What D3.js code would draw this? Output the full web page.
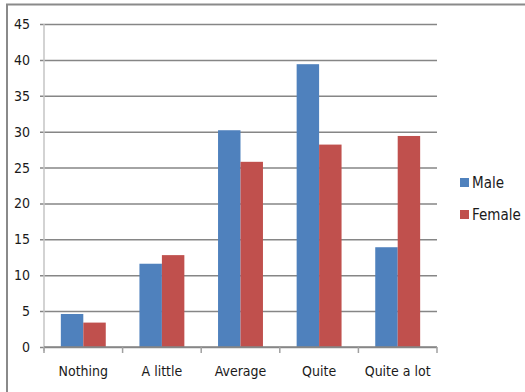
<!DOCTYPE html>
<html>
<head>
<meta charset="utf-8">
<script src="https://cdn.jsdelivr.net/npm/d3@7"></script>
<style>
  html, body { margin: 0; padding: 0; background: #fff; }
  svg text { font-family: "DejaVu Sans Condensed", "Liberation Sans Narrow", "Liberation Sans", sans-serif; font-stretch: condensed; fill: #1a1a1a; }
</style>
</head>
<body>
<svg id="chart" width="525" height="392"></svg>
<script>
const categories = ["Nothing", "A little", "Average", "Quite", "Quite a lot"];
const seriesNames = ["Male", "Female"];
const male = [4.6, 11.6, 30.2, 39.4, 13.9];
const female = [3.4, 12.8, 25.8, 28.2, 29.4];
const yTicks = [0, 5, 10, 15, 20, 25, 30, 35, 40, 45];
const colors = ["#4F81BD", "#C0504D"];

const svg = d3.select("#chart");
const W = 525, H = 392;
const plot = { left: 44, right: 437, top: 24, bottom: 347 };

// Outer frame (open at the right and bottom edges of the view)
svg.append("path")
  .attr("d", `M7,${H} V4.5 H${W}`)
  .attr("fill", "none")
  .attr("stroke", "#8a8a8a")
  .attr("stroke-width", 2);

const x0 = d3.scaleBand().domain(categories).range([plot.left, plot.right]).paddingInner(0).paddingOuter(0);
const x1 = d3.scaleBand().domain(seriesNames).range([0, x0.bandwidth()]).paddingInner(0).paddingOuter(0.75);
const y = d3.scaleLinear().domain([0, 45]).range([plot.bottom, plot.top]);

// Horizontal gridlines with short ticks to the left
const yAxis = d3.axisLeft(y).tickValues(yTicks).tickSize(-(plot.right - plot.left)).tickPadding(10).tickSizeOuter(0);
const gy = svg.append("g").attr("transform", `translate(${plot.left},0)`).call(yAxis);
gy.select(".domain").remove();
gy.selectAll(".tick line")
  .attr("x1", -4)
  .attr("stroke", "#868686")
  .attr("stroke-width", 1.5);
gy.selectAll(".tick text")
  .attr("x", -14)
  .style("font-size", "14px")
  .attr("fill", "#1a1a1a");

// Vertical axis line
svg.append("line")
  .attr("x1", plot.left).attr("x2", plot.left)
  .attr("y1", plot.top).attr("y2", plot.bottom + 4)
  .attr("stroke", "#c4c4c4").attr("stroke-width", 1.5);

const data = categories.map((c, i) => ({ cat: c, vals: [male[i], female[i]] }));

const groups = svg.append("g").selectAll("g")
  .data(data).join("g")
  .attr("transform", d => `translate(${x0(d.cat)},0)`);

groups.selectAll("rect")
  .data(d => d.vals.map((v, j) => ({ key: seriesNames[j], v, j })))
  .join("rect")
  .attr("x", d => x1(d.key))
  .attr("width", x1.bandwidth())
  .attr("y", d => y(d.v))
  .attr("height", d => y(0) - y(d.v))
  .attr("fill", d => colors[d.j]);

// Category axis with tick marks between categories
const boundaries = categories.map(c => x0(c)).concat([plot.right]);
const gx = svg.append("g");
gx.append("line")
  .attr("x1", plot.left).attr("x2", plot.right)
  .attr("y1", plot.bottom).attr("y2", plot.bottom)
  .attr("stroke", "#868686").attr("stroke-width", 1.5);
gx.selectAll("line.tk").data(boundaries).join("line")
  .attr("class", "tk")
  .attr("x1", d => d).attr("x2", d => d)
  .attr("y1", plot.bottom).attr("y2", plot.bottom + 6)
  .attr("stroke", "#a0a0a0").attr("stroke-width", 1.5);
gx.selectAll("text").data(categories).join("text")
  .attr("x", d => x0(d) + x0.bandwidth() / 2)
  .attr("y", 376)
  .attr("text-anchor", "middle")
  .style("font-size", "14px")
  .text(d => d);

// Legend
const legend = svg.append("g").selectAll("g")
  .data(seriesNames).join("g")
  .attr("transform", (d, i) => `translate(460,${178 + i * 32})`);
legend.append("rect").attr("width", 9).attr("height", 9).attr("fill", (d, i) => colors[i]);
legend.append("text").attr("x", 12).attr("y", 9.5).style("font-size", "15px").text(d => d);
</script>
</body>
</html>
